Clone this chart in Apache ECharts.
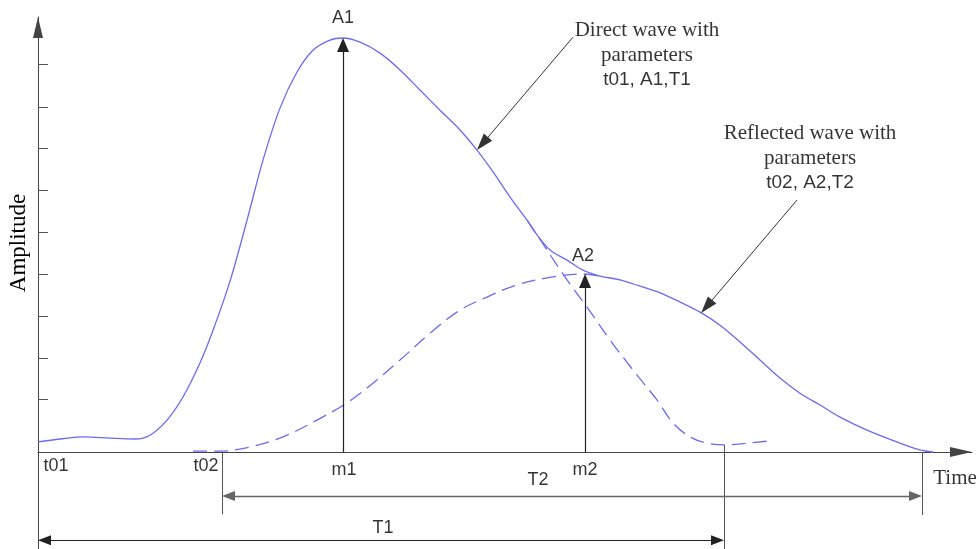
<!DOCTYPE html>
<html>
<head>
<meta charset="utf-8">
<title>Direct and reflected wave</title>
<script src="https://cdn.jsdelivr.net/npm/echarts@6/dist/echarts.min.js"></script>
<style>
  html, body { margin: 0; padding: 0; background: #fff; }
  #chart { width: 979px; height: 549px; }
</style>
</head>
<body>
<div id="chart"></div>
<script>
// time axis runs 0..100, amplitude in tick-ish units (0 = time axis)
const xMax = 100;
const yMin = -2.31;
const yMax = 10.36;
const yTicks = [1.26, 2.24, 3.24, 4.24, 5.24, 6.24, 7.24, 8.21, 9.24];

// key instants and amplitudes
const t01 = 0;
const t02 = 19.7;
const m1 = 32.66;
const m2 = 58.57;
const A1 = 9.86;
const A2 = 4.24;
const endT1 = 73.45;
const endT2 = 94.65;

// measured wave (solid)
const sumWave = [
  [0, 0.24], [2.36, 0.31], [5.03, 0.36], [7.71, 0.33], [10.39, 0.31], [11.99, 0.40],
  [13.81, 0.76], [15.52, 1.31], [17.34, 2.12], [18.74, 2.90], [20.56, 4.07], [22.38, 5.52],
  [24.09, 6.95], [25.91, 8.19], [27.73, 9.05], [29.44, 9.57], [31.26, 9.81], [32.66, 9.86],
  [34.48, 9.76], [36.62, 9.50], [38.76, 9.10], [40.90, 8.62], [43.04, 8.14], [45.18, 7.67],
  [47.00, 7.19], [48.72, 6.67], [50.54, 6.07], [52.36, 5.52], [53.43, 5.17], [54.82, 4.81],
  [56.64, 4.57], [58.35, 4.33], [60.17, 4.19], [62.31, 4.10], [64.45, 3.95], [66.60, 3.79],
  [68.74, 3.57], [70.88, 3.33], [73.02, 3.02], [75.16, 2.62], [77.30, 2.19], [79.44, 1.76],
  [81.58, 1.40], [83.73, 1.12], [85.87, 0.83], [88.76, 0.52], [92.29, 0.21], [94.43, 0.05],
  [95.82, 0]
];

// direct wave tail (dashed, where it leaves the solid curve)
const directTail = [
  [52.36, 5.52], [53.43, 5.17], [56.42, 4.17], [58.78, 3.45], [61.24, 2.67], [63.71, 1.95],
  [66.27, 1.24], [67.99, 0.69], [69.81, 0.36], [71.63, 0.21], [73.77, 0.17], [75.91, 0.21],
  [78.16, 0.26]
];

// reflected wave (dashed)
const reflected = [
  [16.60, 0.02], [19.49, 0.02], [22.70, 0.12], [26.23, 0.36], [29.87, 0.76], [33.08, 1.17],
  [35.87, 1.64], [38.76, 2.19], [41.97, 2.83], [45.18, 3.38], [48.07, 3.69], [51.28, 3.98],
  [55.14, 4.17], [58.35, 4.24], [60.49, 4.17]
];

// pointer arrows: [from, to]
const directPointer = [[57.28, 9.88], [47.00, 7.19]];
const reflectedPointer = [[81.26, 6.0], [71.0, 3.31]];

// dimension lines
const yT2 = -1.05;
const yT1 = -2.10;

// text labels: [x, y, text]
const labels = [
  [32.66, 10.33, 'A1'],
  [58.35, 4.67, 'A2'],
  [1.93, -0.33, 't01'],
  [17.99, -0.33, 't02'],
  [32.76, -0.43, 'm1'],
  [58.57, -0.43, 'm2'],
  [53.53, -0.67, 'T2'],
  [36.94, -1.81, 'T1']
];

const blue = '#6b6bf2';
const sans = 'Liberation Sans';
const serif = 'Liberation Serif';

// px per data unit, used only to keep arrow tips on their target points
const kx = 934 / xMax;
const ky = 532 / (yMax - yMin);

// move point p toward q by len pixels (triangle symbols are centred on the end point)
function back(p, q, len) {
  const dx = (q[0] - p[0]) * kx;
  const dy = (q[1] - p[1]) * ky;
  const d = Math.sqrt(dx * dx + dy * dy) || 1;
  return [p[0] + dx / d * len / kx, p[1] + dy / d * len / ky];
}

function seg(a, b, color, width, s0, s1, size) {
  const a2 = s0 === 'none' ? a : back(a, b, size[1] / 2);
  const b2 = s1 === 'none' ? b : back(b, a, size[1] / 2);
  return [
    { coord: a2, symbol: s0, symbolSize: size, lineStyle: { color: color, width: width, type: 'solid' } },
    { coord: b2, symbol: s1, symbolSize: size, lineStyle: { color: color, width: width, type: 'solid' } }
  ];
}

const chart = echarts.init(document.getElementById('chart'));

const option = {
  animation: false,
  backgroundColor: '#fff',
  grid: { left: 38, right: 7, top: 17, bottom: 0, containLabel: false, outerBoundsMode: 'none' },
  xAxis: {
    type: 'value',
    min: 0,
    max: xMax,
    axisLine: {
      onZero: true,
      symbol: ['none', 'triangle'],
      symbolSize: [10, 22],
      symbolOffset: [0, -11],
      lineStyle: { color: '#444', width: 1 }
    },
    axisTick: { show: false },
    axisLabel: { show: false },
    splitLine: { show: false }
  },
  yAxis: {
    type: 'value',
    min: yMin,
    max: yMax,
    name: 'Amplitude',
    nameLocation: 'middle',
    nameGap: 8,
    nameTextStyle: { fontFamily: serif, fontSize: 23, color: '#000', padding: [0, 0, 0, 80] },
    axisLine: {
      symbol: ['none', 'triangle'],
      symbolSize: [10, 21],
      symbolOffset: [0, -10.5],
      lineStyle: { color: '#444', width: 1 }
    },
    axisTick: { show: true, inside: true, length: 10, customValues: yTicks, lineStyle: { color: '#555' } },
    axisLabel: { show: false },
    splitLine: { show: false }
  },
  series: [
    {
      type: 'line',
      data: sumWave,
      smooth: 0.35,
      showSymbol: false,
      lineStyle: { color: blue, width: 1.3 },
      silent: true,
      markLine: {
        silent: true,
        animation: false,
        label: { show: false },
        emphasis: { disabled: true },
        data: [
          seg([m1, 0], [m1, A1], '#222', 1.2, 'none', 'triangle', [12, 14]),
          seg([m2, 0], [m2, A2], '#222', 1.2, 'none', 'triangle', [12, 14]),
          seg([t02, 0], [t02, -1.48], '#555', 1, 'none', 'none', [0, 0]),
          seg([endT1, 0.17], [endT1, yMin], '#555', 1, 'none', 'none', [0, 0]),
          seg([endT2, 0], [endT2, -1.5], '#555', 1, 'none', 'none', [0, 0]),
          seg([t02, yT2], [endT2, yT2], '#666', 1.4, 'triangle', 'triangle', [10, 13]),
          seg([t01, yT1], [endT1, yT1], '#222', 1.2, 'triangle', 'triangle', [10, 13]),
          seg(directPointer[0], directPointer[1], '#333', 1, 'none', 'triangle', [11, 17]),
          seg(reflectedPointer[0], reflectedPointer[1], '#333', 1, 'none', 'triangle', [11, 17])
        ]
      }
    },
    {
      type: 'line',
      data: directTail,
      smooth: 0.35,
      showSymbol: false,
      silent: true,
      lineStyle: { color: blue, width: 1.3, type: [14, 7] }
    },
    {
      type: 'line',
      data: reflected,
      smooth: 0.35,
      showSymbol: false,
      silent: true,
      lineStyle: { color: blue, width: 1.3, type: [14, 7] }
    },
    {
      type: 'scatter',
      silent: true,
      clip: false,
      symbolSize: 0,
      itemStyle: { color: 'rgba(0,0,0,0)' },
      label: {
        show: true,
        position: 'inside',
        formatter: '{b}',
        color: '#000',
        fontFamily: sans,
        fontSize: 18
      },
      data: labels.map(function (l) { return { name: l[2], value: [l[0], l[1]] }; }).concat([
        {
          name: 'Time',
          value: [98.18, -0.62],
          label: { fontFamily: serif, fontSize: 21 }
        },
        {
          name: 'direct',
          value: [65.2, 9.45],
          label: {
            formatter: '{a|Direct wave with}\n{a|parameters}\n{b|t01, A1,T1}',
            align: 'center',
            rich: {
              a: { fontFamily: serif, fontSize: 21, lineHeight: 25, color: '#000', align: 'center' },
              b: { fontFamily: sans, fontSize: 19, lineHeight: 25, color: '#000', align: 'center' }
            }
          }
        },
        {
          name: 'reflected',
          value: [82.66, 7.0],
          label: {
            formatter: '{a|Reflected wave with}\n{a|parameters}\n{b|t02, A2,T2}',
            align: 'center',
            rich: {
              a: { fontFamily: serif, fontSize: 21, lineHeight: 25, color: '#000', align: 'center' },
              b: { fontFamily: sans, fontSize: 19, lineHeight: 25, color: '#000', align: 'center' }
            }
          }
        }
      ])
    }
  ]
};

chart.setOption(option);
</script>
</body>
</html>
